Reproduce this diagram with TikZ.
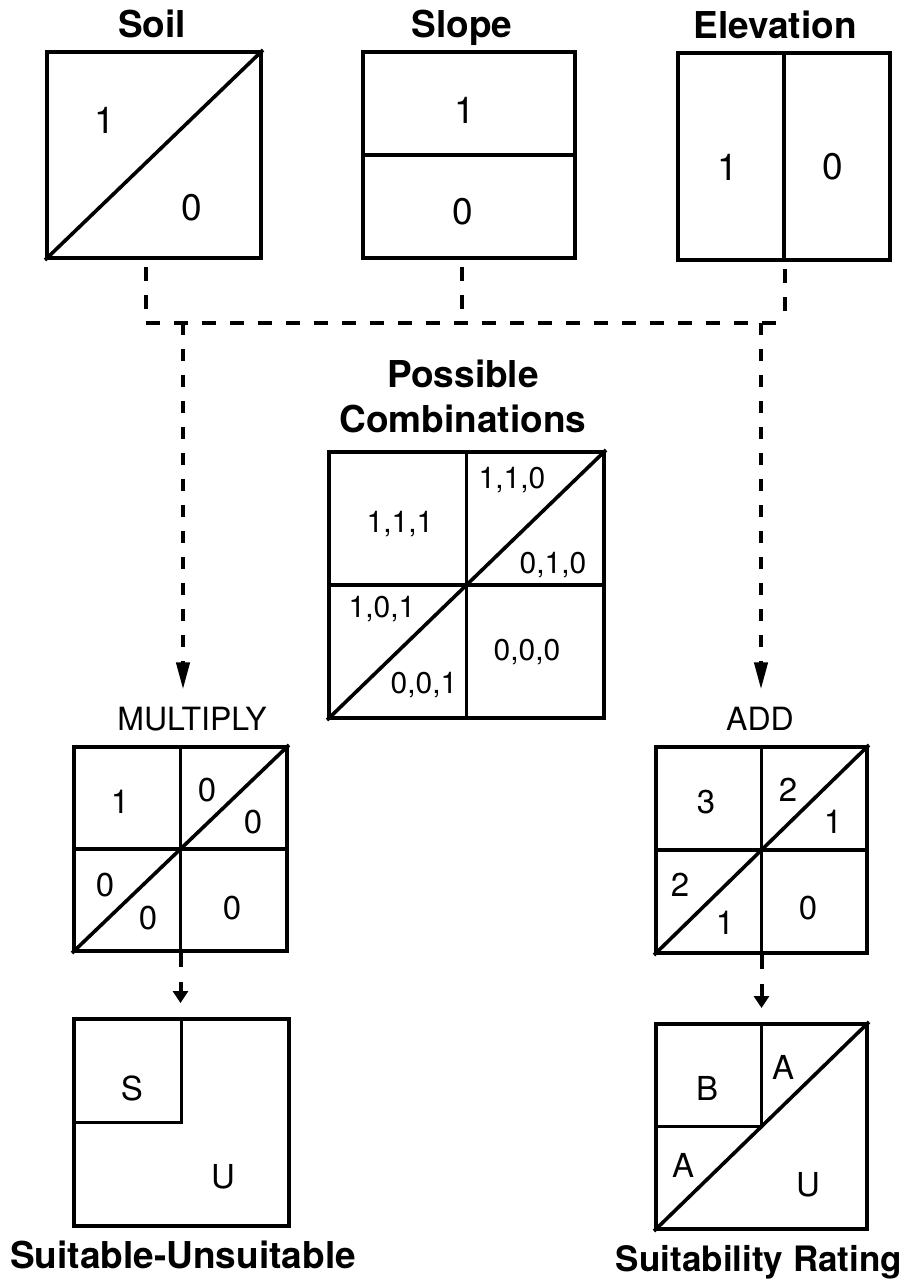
\documentclass[tikz,border=0pt]{standalone}
\usepackage{fontspec}
\setmainfont{TeX Gyre Heros}
\usetikzlibrary{arrows.meta}

\begin{document}
\begin{tikzpicture}[x=1pt, y=-1pt,
  panel/.style={draw, rectangle, line width=4pt, inner sep=0pt},
  divider/.style={line width=3.6pt, line join=miter},
  title/.style={font=\fontsize{37}{40}\selectfont\bfseries, anchor=base, inner sep=0pt},
  optext/.style={font=\fontsize{32}{36}\selectfont, anchor=base, inner sep=0pt},
  bigval/.style={font=\fontsize{37}{40}\selectfont, inner sep=0pt},
  cellval/.style={font=\fontsize{33}{36}\selectfont, inner sep=0pt},
  combo/.style={font=\fontsize{30}{34}\selectfont, anchor=base, inner sep=0pt},
  bus/.style={line width=4pt, dash pattern=on 14pt off 14pt},
  flow/.style={line width=4pt, dash pattern=on 12pt off 14pt,
    -{Triangle[length=27pt,width=13pt]}},
  shortflow/.style={line width=4pt, dash pattern=on 14pt off 15pt,
    -{Triangle[length=12pt,width=15pt]}}
]
\useasboundingbox[fill=white] (0,0) rectangle (910,1280);

% ---- input layers ----
\node[title] (t-soil)  at (152,37) {Soil};
\node[title] (t-slope) at (462,37) {Slope};
\node[title] (t-elev)  at (775,38) {Elevation};

\node[panel, minimum width=214pt, minimum height=206pt] (soil)  at (154,155) {};
\node[panel, minimum width=212pt, minimum height=206pt] (slope) at (469,155) {};
\node[panel, minimum width=212pt, minimum height=207pt] (elev)  at (784,156.5) {};

\draw[divider] (soil.south west) -- (soil.north east);
\draw[divider] (slope.west) -- (slope.east);
\draw[divider] (elev.north) -- (elev.south);

\node[bigval] (soil-1)  at (105,120) {1};
\node[bigval] (soil-0)  at (192,208) {0};
\node[bigval] (slope-1) at (465,110) {1};
\node[bigval] (slope-0) at (463,212) {0};
\node[bigval] (elev-1)  at (728,167) {1};
\node[bigval] (elev-0)  at (833,167) {0};

% ---- overlay ----
\node[title] (t-poss) at (463,387) {Possible};
\node[title] (t-comb) at (463,432) {Combinations};
\node[panel, minimum width=275pt, minimum height=266pt] (comb) at (466.5,585) {};
\draw[divider] (comb.north) -- (comb.south);
\draw[divider] (comb.west) -- (comb.east);
\draw[divider] (comb.south west) -- (comb.north east);

\node[combo] (c111) at (400,532) {1,1,1};
\node[combo] (c110) at (512,488) {1,1,0};
\node[combo] (c010) at (553,573) {0,1,0};
\node[combo] (c101) at (382,617) {1,0,1};
\node[combo] (c000) at (527,660) {0,0,0};
\node[combo] (c001) at (424,693) {0,0,1};

% ---- bus from the input layers ----
\coordinate (busL) at (146,323);
\coordinate (busR) at (785,323);
\coordinate (busS) at (462,323);
\coordinate (tapL) at (183,323);
\coordinate (tapR) at (761,323);
\draw[bus, dash phase=21pt] (soil.south -| busL) -- (busL) -- (busR);
\draw[bus, dash phase=21pt] (elev.south -| busR) -- (busR);
\draw[bus, dash phase=21pt] (slope.south -| busS) -- (busS);

% ---- multiply branch ----
\node[optext] (t-mul) at (192,730) {MULTIPLY};
\draw[flow] (tapL) -- (tapL |- t-mul.north) [shorten >=17pt];
\node[panel, minimum width=213pt, minimum height=204pt] (mul) at (180.5,849) {};
\draw[divider] (mul.north) -- (mul.south);
\draw[divider] (mul.west) -- (mul.east);
\draw[divider] (mul.south west) -- (mul.north east);
\node[cellval] (m1) at (120,802) {1};
\node[cellval] (m2) at (207,790) {0};
\node[cellval] (m3) at (253,822) {0};
\node[cellval] (m4) at (105,885) {0};
\node[cellval] (m5) at (148,918) {0};
\node[cellval] (m6) at (232,908) {0};

\node[panel, minimum width=215pt, minimum height=207pt] (suit) at (181.5,1122.5) {};
\draw[divider] (suit.north) -- (suit.center) -- (suit.west);
\node[cellval] (s-s) at (132,1088) {S};
\node[cellval] (s-u) at (223,1177) {U};
\draw[shortflow] (mul.south) -- (mul.south |- suit.north) [shorten >=14pt];
\node[title] (t-suit) at (183,1268) {Suitable-Unsuitable};

% ---- add branch ----
\node[optext] (t-add) at (760,730) {ADD};
\draw[flow] (tapR) -- (tapR |- t-add.north) [shorten >=17pt];
\node[panel, minimum width=211pt, minimum height=206pt] (add) at (761.5,850) {};
\draw[divider] (add.north) -- (add.south);
\draw[divider] (add.west) -- (add.east);
\draw[divider] (add.south west) -- (add.north east);
\node[cellval] (a1) at (706,802) {3};
\node[cellval] (a2) at (788,790) {2};
\node[cellval] (a3) at (833,822) {1};
\node[cellval] (a4) at (680,885) {2};
\node[cellval] (a5) at (725,923) {1};
\node[cellval] (a6) at (808,908) {0};

\node[panel, minimum width=211pt, minimum height=205pt] (rate) at (761.5,1126.5) {};
\draw[divider] (rate.north) -- (rate.center) -- (rate.west);
\draw[divider] (rate.south west) -- (rate.north east);
\node[cellval] (r-b)  at (707,1088) {B};
\node[cellval] (r-a1) at (783,1067) {A};
\node[cellval] (r-a2) at (683,1165) {A};
\node[cellval] (r-u)  at (808,1185) {U};
\draw[shortflow] (add.south) -- (add.south |- rate.north) [shorten >=14pt];
\node[title, font=\fontsize{35}{38}\selectfont\bfseries] (t-rate) at (759,1271) {Suitability Rating};
\end{tikzpicture}
\end{document}
